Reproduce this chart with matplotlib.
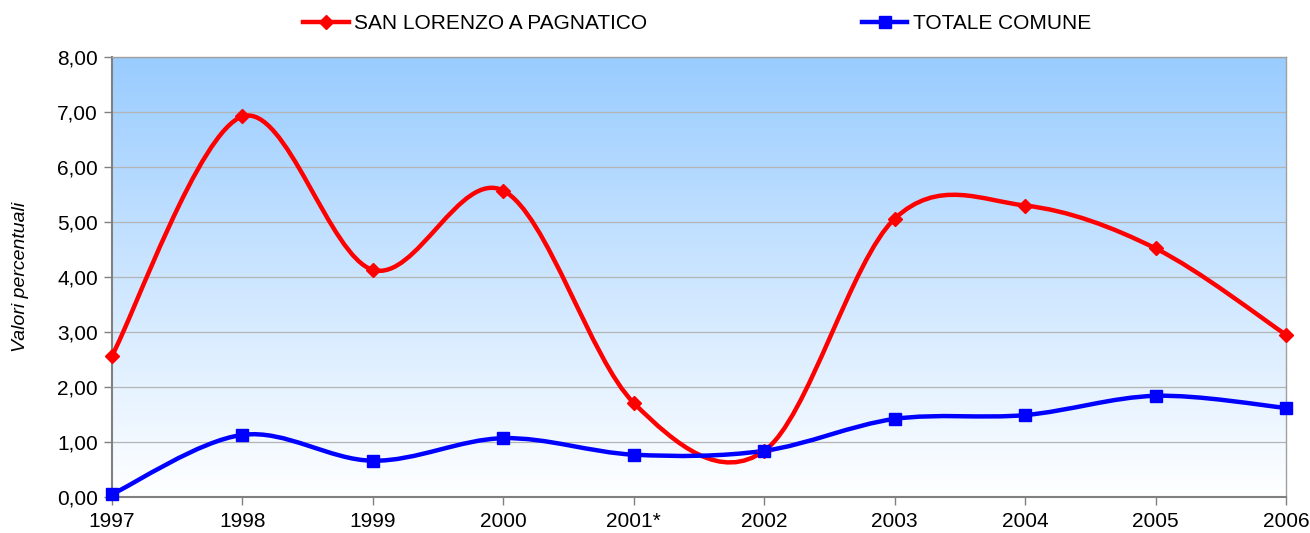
import numpy as np
import matplotlib
matplotlib.use("Agg")
import matplotlib.pyplot as plt
from matplotlib.path import Path
from matplotlib.patches import PathPatch
from matplotlib.lines import Line2D
from matplotlib.colors import LinearSegmentedColormap

plt.rcParams['font.family'] = ['Liberation Sans', 'DejaVu Sans']

years = ['1997', '1998', '1999', '2000', '2001*', '2002', '2003', '2004', '2005', '2006']
san_lorenzo = [2.57, 6.92, 4.13, 5.57, 1.71, 0.84, 5.06, 5.30, 4.52, 2.95]
totale = [0.05, 1.13, 0.66, 1.07, 0.77, 0.84, 1.42, 1.49, 1.84, 1.62]
y_ticks = [0, 1, 2, 3, 4, 5, 6, 7, 8]

fig = plt.figure(figsize=(13.1, 5.33), dpi=100)
ax = fig.add_axes([0.0855, 0.0675, 0.8962, 0.8255])

x = np.arange(len(years))
ax.set_xlim(0, len(years) - 1)
ax.set_ylim(0, 8)

# gradient background
cmap = LinearSegmentedColormap.from_list('bg', ['#ffffff', '#99ccff'])
grad = np.linspace(0, 1, 256).reshape(-1, 1)
ax.imshow(grad, extent=[0, len(years) - 1, 0, 8], origin='lower', aspect='auto',
          cmap=cmap, zorder=0)

for t in y_ticks[1:]:
    ax.axhline(t, color='#b4b4b4', lw=0.9, zorder=1)


def smooth_path(xs, ys):
    pts = np.column_stack([xs, ys]).astype(float)
    n = len(pts)
    verts = [pts[0]]
    codes = [Path.MOVETO]
    for i in range(n - 1):
        p0 = pts[i - 1] if i > 0 else pts[i]
        p1 = pts[i]
        p2 = pts[i + 1]
        p3 = pts[i + 2] if i + 2 < n else pts[i + 1]
        c1 = p1 + (p2 - p0) / 6.0
        c2 = p2 - (p3 - p1) / 6.0
        verts += [c1, c2, p2]
        codes += [Path.CURVE4] * 3
    return Path(verts, codes)


ax.add_patch(PathPatch(smooth_path(x, san_lorenzo), fill=False, edgecolor='#ff0000',
                       lw=3.2, zorder=3, clip_on=False))
ax.add_patch(PathPatch(smooth_path(x, totale), fill=False, edgecolor='#0000ff',
                       lw=3.2, zorder=3, clip_on=False))
ax.plot(x, san_lorenzo, ls='none', marker='D', ms=7, color='#ff0000', zorder=4, clip_on=False)
ax.plot(x, totale, ls='none', marker='s', ms=9, color='#0000ff', zorder=4, clip_on=False)

ax.set_xticks(x)
ax.set_xticklabels(years, fontsize=15)
ax.set_yticks(y_ticks)
ax.set_yticklabels([f"{v:.2f}".replace('.', ',') for v in y_ticks], fontsize=15)
ax.tick_params(axis='both', direction='out', length=6, width=1, color='#808080', pad=4)
ax.tick_params(axis='x', pad=5)

for side in ['top', 'right']:
    ax.spines[side].set_color('#a0a0a0')
    ax.spines[side].set_linewidth(1.0)
for side in ['left', 'bottom']:
    ax.spines[side].set_color('#808080')
    ax.spines[side].set_linewidth(1.5)

ax.set_ylabel('Valori percentuali', fontsize=14, style='italic', labelpad=20)

handles = [
    Line2D([], [], color='#ff0000', lw=3.2, marker='D', ms=7),
    Line2D([], [], color='#0000ff', lw=3.2, marker='s', ms=9),
]
fig.legend(handles, ['SAN LORENZO A PAGNATICO', 'TOTALE COMUNE'], loc='center',
           bbox_to_anchor=(0.532, 0.955), ncol=2, frameon=False, fontsize=15,
           handlelength=2.2, handletextpad=0.25, columnspacing=10.3)

fig.savefig('out.png', dpi=100)
